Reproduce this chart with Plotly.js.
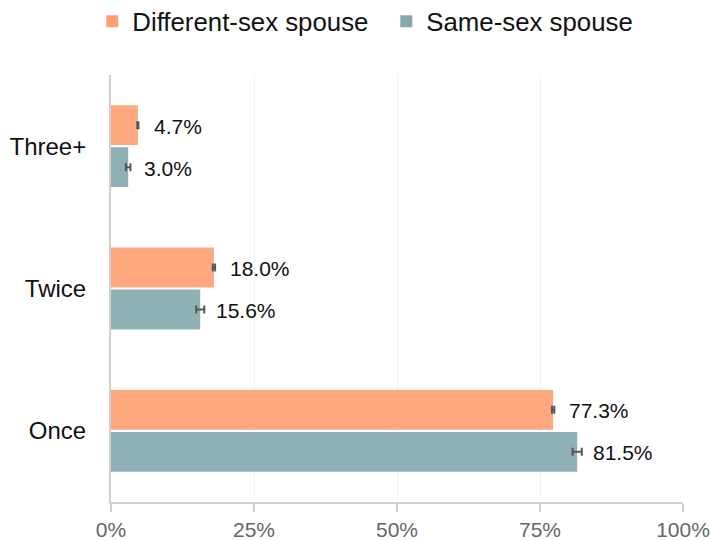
<!DOCTYPE html>
<html>
<head>
<meta charset="utf-8">
<script src="https://cdn.plot.ly/plotly-3.0.1.min.js"></script>
<style>html,body{margin:0;padding:0;background:#fff}#chart{width:710px;height:540px}</style>
</head>
<body>
<div id="chart"></div>
<script>
const categories = ['Once', 'Twice', 'Three+'];
const differentSex = [77.3, 18.0, 4.7];
const differentSexErr = [0.2, 0.2, 0.1];
const sameSex = [81.5, 15.6, 3.0];
const sameSexErr = [0.8, 0.7, 0.4];
const seriesNames = ['Different-sex spouse', 'Same-sex spouse'];
const xTickVals = [0, 25, 50, 75, 100];
const xTickText = ['0%', '25%', '50%', '75%', '100%'];

const FONT = 'Liberation Sans, Arial, sans-serif';
const bargap = 0.41;
const slot = (1 - bargap) / 2;

const errStyle = {type: 'data', visible: true, color: '#555555', thickness: 2, width: 4};

const traces = [
  {
    type: 'bar', orientation: 'h', name: seriesNames[1],
    y: categories, x: sameSex,
    error_x: Object.assign({array: sameSexErr}, errStyle),
    marker: {color: '#83A9AD', opacity: 0.9},
    hoverinfo: 'none'
  },
  {
    type: 'bar', orientation: 'h', name: seriesNames[0],
    y: categories, x: differentSex,
    error_x: Object.assign({array: differentSexErr}, errStyle),
    marker: {color: '#FF9F72', opacity: 0.9},
    hoverinfo: 'none'
  }
];

const annotations = [];
categories.forEach((c, i) => {
  annotations.push({
    x: differentSex[i], y: i + slot / 2, xref: 'x', yref: 'y',
    text: differentSex[i].toFixed(1) + '%', showarrow: false,
    xanchor: 'left', yanchor: 'middle', xshift: 14, yshift: -1,
    font: {family: FONT, size: 21, color: '#111111'}
  });
  annotations.push({
    x: sameSex[i], y: i - slot / 2, xref: 'x', yref: 'y',
    text: sameSex[i].toFixed(1) + '%', showarrow: false,
    xanchor: 'left', yanchor: 'middle', xshift: 14, yshift: -1,
    font: {family: FONT, size: 21, color: '#111111'}
  });
});

const layout = {
  width: 710, height: 540,
  margin: {l: 111, r: 27, t: 75, b: 38, autoexpand: false},
  paper_bgcolor: '#ffffff', plot_bgcolor: '#ffffff',
  barmode: 'group', bargap: bargap, bargroupgap: 0.05,
  showlegend: true,
  legend: {
    orientation: 'h', traceorder: 'reversed',
    x: -0.0327, xref: 'paper', xanchor: 'left',
    y: 1.1803, yref: 'paper', yanchor: 'top',
    font: {family: FONT, size: 25.8, color: '#111111'},
    entrywidth: 249, entrywidthmode: 'pixels',
    itemwidth: 30, itemsizing: 'constant'
  },
  xaxis: {
    range: [0, 100], tickvals: xTickVals, ticktext: xTickText,
    showgrid: true, gridcolor: '#f2f2f2', gridwidth: 1,
    showline: true, linecolor: '#d0d0d0', linewidth: 2,
    ticks: 'outside', ticklen: 8, tickcolor: '#d0d0d0', tickwidth: 2,
    zeroline: false,
    tickfont: {family: FONT, size: 21, color: '#666666'},
    fixedrange: true
  },
  yaxis: {
    type: 'category', categoryorder: 'array', categoryarray: categories,
    range: [-0.5, 2.5],
    showgrid: false, zeroline: false,
    showline: true, linecolor: '#d0d0d0', linewidth: 2,
    ticks: 'outside', ticklen: 18, tickcolor: 'rgba(0,0,0,0)',
    tickfont: {family: FONT, size: 24, color: '#111111'},
    fixedrange: true
  },
  annotations: annotations
};

Plotly.newPlot('chart', traces, layout, {displayModeBar: false, staticPlot: true});
</script>
</body>
</html>
